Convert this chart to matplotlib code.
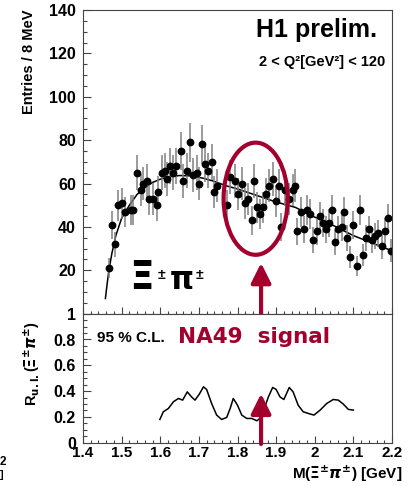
import numpy as np
import matplotlib
matplotlib.use("Agg")
import matplotlib.pyplot as plt
from matplotlib.patches import Ellipse

plt.rcParams['font.family'] = ['Liberation Sans', 'DejaVu Sans']
plt.rcParams['font.weight'] = 'bold'
plt.rcParams['mathtext.fontset'] = 'dejavusans'

# --- data ---
mass = [1.467, 1.476, 1.483, 1.491, 1.500, 1.509, 1.524, 1.530,
        1.539, 1.549, 1.556, 1.565, 1.572, 1.582, 1.591, 1.595,
        1.604, 1.612, 1.618, 1.625, 1.634, 1.642, 1.653, 1.660,
        1.668, 1.677, 1.686, 1.694, 1.701, 1.707, 1.716, 1.724,
        1.733, 1.739, 1.748, 1.772, 1.781, 1.793, 1.802, 1.811,
        1.819, 1.828, 1.837, 1.844, 1.851, 1.858, 1.867, 1.874,
        1.882, 1.891, 1.900, 1.908, 1.912, 1.923, 1.934, 1.943,
        1.949, 1.955, 1.964, 1.972, 1.981, 1.988, 1.996, 2.005,
        2.014, 2.022, 2.029, 2.038, 2.044, 2.052, 2.061, 2.070,
        2.076, 2.084, 2.091, 2.100, 2.109, 2.117, 2.124, 2.133,
        2.140, 2.147, 2.156, 2.165, 2.173, 2.182, 2.189, 2.197]
entries = [21, 41, 32, 50, 51, 47, 48, 48,
           65, 57, 60, 61, 53, 53, 50, 56,
           65, 66, 62, 68, 65, 68, 75, 61,
           66, 79, 64, 65, 60, 78, 69, 66,
           70, 56, 59, 50, 63, 61, 55, 60,
           51, 53, 43, 61, 49, 46, 49, 55,
           59, 62, 52, 59, 40, 57, 53, 57,
           59, 38, 47, 39, 48, 46, 34, 38,
           45, 42, 39, 42, 48, 33, 39, 40,
           47, 35, 26, 41, 22, 48, 27, 35,
           39, 34, 36, 37, 31, 38, 44, 29]

# background fit curve
fit_mass = [1.458, 1.462, 1.467, 1.475, 1.485, 1.500, 1.520, 1.540, 1.560,
            1.580, 1.600, 1.620, 1.650, 1.680, 1.710, 1.740, 1.770, 1.800,
            1.850, 1.900, 1.950, 2.000, 2.050, 2.100, 2.150, 2.200]
fit_vals = [7, 13, 20, 28, 36, 44, 50, 55, 58,
            60.5, 62, 63, 63.7, 63.5, 62.5, 61, 59, 57.5,
            54.5, 51.5, 49, 44.5, 40.5, 36, 32.5, 29]

# upper limit ratio (95% C.L.)
ul_mass = [1.599, 1.608, 1.621, 1.634, 1.647, 1.658, 1.670, 1.681, 1.690,
           1.701, 1.712, 1.720, 1.733, 1.746, 1.759, 1.772, 1.781, 1.789,
           1.800, 1.811, 1.824, 1.837, 1.850, 1.858, 1.871, 1.880, 1.891,
           1.900, 1.910, 1.920, 1.934, 1.944, 1.957, 1.970, 1.983, 1.998,
           2.014, 2.031, 2.048, 2.061, 2.074, 2.087, 2.100]
ul_vals = [0.18, 0.24, 0.265, 0.317, 0.343, 0.33, 0.394, 0.355, 0.33,
           0.376, 0.433, 0.413, 0.304, 0.214, 0.18, 0.196, 0.265, 0.343,
           0.291, 0.214, 0.188, 0.188, 0.17, 0.188, 0.278, 0.355, 0.428,
           0.413, 0.355, 0.335, 0.428, 0.394, 0.291, 0.24, 0.227, 0.214,
           0.253, 0.304, 0.335, 0.33, 0.299, 0.258, 0.253]

na49_mass = 1.861
red = '#a3002d'
frame = '#444444'

W, H = 414, 486
fig = plt.figure(figsize=(W / 100, H / 100), dpi=100)
ax_top = fig.add_axes([83 / W, 1 - 313.7 / H, 309 / W, 303.7 / H])
ax_bot = fig.add_axes([83 / W, 1 - 442.7 / H, 309 / W, 129 / H])

# --- upper panel ---
ax_top.plot(fit_mass, fit_vals, color='black', lw=1.1, zorder=1)
ax_top.errorbar(mass, entries, yerr=np.sqrt(entries), fmt='o', color='black',
                ecolor='#808080', elinewidth=1.1, markersize=4.6, capsize=0,
                zorder=2)
ax_top.add_patch(Ellipse((1.847, 53), 0.166, 51.7, fill=False,
                         edgecolor=red, lw=3.0, zorder=3))
ax_top.annotate('', xy=(na49_mass, 23.4), xytext=(na49_mass, -1),
                arrowprops=dict(arrowstyle='-|>,head_length=1.2,head_width=0.6',
                                color=red, lw=3.0, shrinkA=0, shrinkB=0,
                                mutation_scale=10),
                annotation_clip=False, zorder=4)
ax_top.set_xlim(1.4, 2.2)
ax_top.set_ylim(0, 140)
ax_top.set_yticks([20, 40, 60, 80, 100, 120, 140])
ax_top.set_yticks(np.arange(0, 141, 5), minor=True)
ax_top.set_xticks(np.arange(1.4, 2.21, 0.1))
ax_top.set_xticks(np.arange(1.4, 2.21, 0.02), minor=True)
ax_top.tick_params(axis='x', labelbottom=False)

ax_top.text(0.9505, 0.910, 'H1 prelim.', transform=ax_top.transAxes,
            ha='right', va='baseline', fontsize=18, fontweight='bold')
ax_top.text(0.977, 0.8166, '2 < Q²[GeV²] < 120', transform=ax_top.transAxes,
            ha='right', va='baseline', fontsize=10.5, fontweight='bold')

# particle label
ax_top.text(0.150, 0.0813, 'Ξ', transform=ax_top.transAxes, ha='left',
            va='baseline', fontsize=28, fontweight='bold',
            family=['DejaVu Sans'])
ax_top.text(0.243, 0.114, '±', transform=ax_top.transAxes, ha='left',
            va='baseline', fontsize=10, fontweight='bold')
ax_top.text(0.280, 0.0813, 'π', transform=ax_top.transAxes, ha='left',
            va='baseline', fontsize=22, fontweight='bold',
            family=['DejaVu Sans'])
ax_top.text(0.3657, 0.114, '±', transform=ax_top.transAxes, ha='left',
            va='baseline', fontsize=10, fontweight='bold')

# --- lower panel ---
ax_bot.plot(ul_mass, ul_vals, color='black', lw=1.1)
ax_bot.annotate('', xy=(na49_mass, 0.38), xytext=(na49_mass, -0.01),
                arrowprops=dict(arrowstyle='-|>,head_length=1.2,head_width=0.6',
                                color=red, lw=3.0, shrinkA=0, shrinkB=0,
                                mutation_scale=10),
                annotation_clip=False, zorder=4)
ax_bot.set_xlim(1.4, 2.2)
ax_bot.set_ylim(0, 1)
ax_bot.set_yticks([0, 0.2, 0.4, 0.6, 0.8, 1])
ax_bot.set_yticklabels(['0', '0.2', '0.4', '0.6', '0.8', '1'])
ax_bot.set_yticks(np.arange(0, 1.001, 0.05), minor=True)
ax_bot.set_xticks(np.arange(1.4, 2.21, 0.1))
ax_bot.set_xticklabels(['1.4', '1.5', '1.6', '1.7', '1.8', '1.9', '2', '2.1', '2.2'])
ax_bot.set_xticks(np.arange(1.4, 2.21, 0.02), minor=True)

ax_bot.text(1.4355, 0.78, '95 % C.L.', ha='left', va='baseline',
            fontsize=11, fontweight='bold')
ax_bot.text(1.646, 0.77, 'NA49  signal', ha='left', va='baseline',
            fontsize=15.5, fontweight='bold', color=red,
            family=['DejaVu Sans'])

for ax in (ax_top, ax_bot):
    for sp in ax.spines.values():
        sp.set_color(frame)
        sp.set_linewidth(0.8)
    ax.tick_params(which='both', direction='in', top=False, right=False,
                   color=frame, width=0.8)
    ax.tick_params(axis='y', which='major', length=6, pad=5, labelsize=11.5)
    ax.tick_params(axis='y', which='minor', length=3)
    ax.tick_params(axis='x', which='major', length=5, pad=2.5, labelsize=11)
    ax.tick_params(axis='x', which='minor', length=2.5)
    for lab in ax.get_xticklabels() + ax.get_yticklabels():
        lab.set_fontweight('bold')

# axis titles
fig.text(29 / W, 1 - 10 / H, 'Entries / 8 MeV', rotation=90, ha='center',
         va='top', fontsize=10.5, fontweight='bold')
fig.text(32 / W, 1 - 321 / H, r'R$_{\rm u.l.}$($\Xi^{\pm}\pi^{\pm}$)',
         rotation=90, ha='center', va='top', fontsize=10.5, fontweight='bold')
fig.text(402 / W, 1 - 479 / H, r'M($\Xi^{\pm}\pi^{\pm}$) [GeV]',
         ha='right', va='baseline', fontsize=11, fontweight='bold')

# cut-off glyphs from the neighbouring plot
fig.text(0, 1 - 465 / H, '2', ha='left', va='baseline', fontsize=8.5,
         fontweight='bold')
fig.text(0, 1 - 478 / H, ']', ha='left', va='baseline', fontsize=8,
         fontweight='bold')

fig.savefig('out.png', dpi=100)
